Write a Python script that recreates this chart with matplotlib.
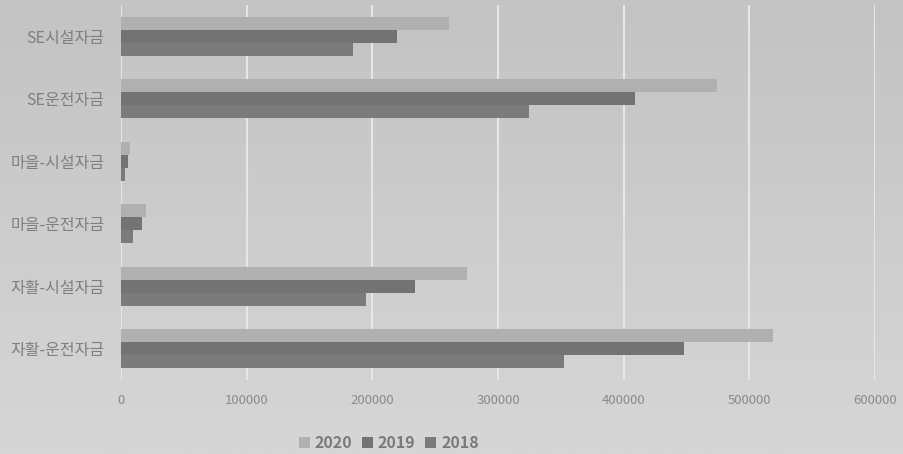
import numpy as np
import matplotlib.pyplot as plt

plt.rcParams['font.family'] = ['Noto Sans CJK KR', 'DejaVu Sans']

categories = ['자활-운전자금', '자활-시설자금', '마을-운전자금', '마을-시설자금', 'SE운전자금', 'SE시설자금']
years = ['2020', '2019', '2018']
v2020 = [519000, 275000, 20000, 7000, 474000, 261000]
v2019 = [448000, 234000, 16500, 5500, 409000, 220000]
v2018 = [352500, 195000, 9500, 3000, 324500, 184500]
xticks = [0, 100000, 200000, 300000, 400000, 500000, 600000]

colors = ['#b0b0b0', '#737373', '#7b7b7b']

fig = plt.figure(figsize=(9.04, 4.54), dpi=100)

# soft vertical gradient behind everything
bg = fig.add_axes([0, 0, 1, 1], zorder=-10)
grad = np.linspace(0, 1, 256).reshape(-1, 1)
bg.imshow(grad, aspect='auto', cmap=plt.matplotlib.colors.LinearSegmentedColormap.from_list(
    'bg', ['#c3c3c3', '#d6d6d6']), extent=[0, 1, 0, 1], origin='upper')
bg.axis('off')

ax = fig.add_axes([121 / 904, 1 - 380 / 454, (875 - 121) / 904, 375 / 454])
ax.patch.set_alpha(0)

y = np.arange(len(categories))
h = 0.208
ax.barh(y + h, v2020, h, color=colors[0], label=years[0])
ax.barh(y, v2019, h, color=colors[1], label=years[1])
ax.barh(y - h, v2018, h, color=colors[2], label=years[2])

ax.set_xlim(0, 600000)
ax.set_ylim(-0.5, len(categories) - 0.5)
ax.set_xticks(xticks)
ax.set_xticklabels([str(t) for t in xticks], color='#8a8a8a', fontsize=9.5)
ax.set_yticks(y)
ax.set_yticklabels(categories, color='#7f7f7f', fontsize=11.5)
ax.tick_params(length=0, pad=10)
ax.tick_params(axis='y', pad=12)
ax.xaxis.grid(True, color='#e6e6e6', linewidth=1.5)
ax.set_axisbelow(True)
for s in ax.spines.values():
    s.set_visible(False)

leg = fig.legend(loc='center', bbox_to_anchor=(0.43, 1 - 443 / 454), ncol=3, frameon=False,
                 handlelength=0.7, handleheight=0.7, handletextpad=0.3, columnspacing=0.6,
                 prop={'weight': 'bold', 'size': 11.5})
for t in leg.get_texts():
    t.set_color('#7a7a7a')

fig.savefig('out.png', dpi=100)
